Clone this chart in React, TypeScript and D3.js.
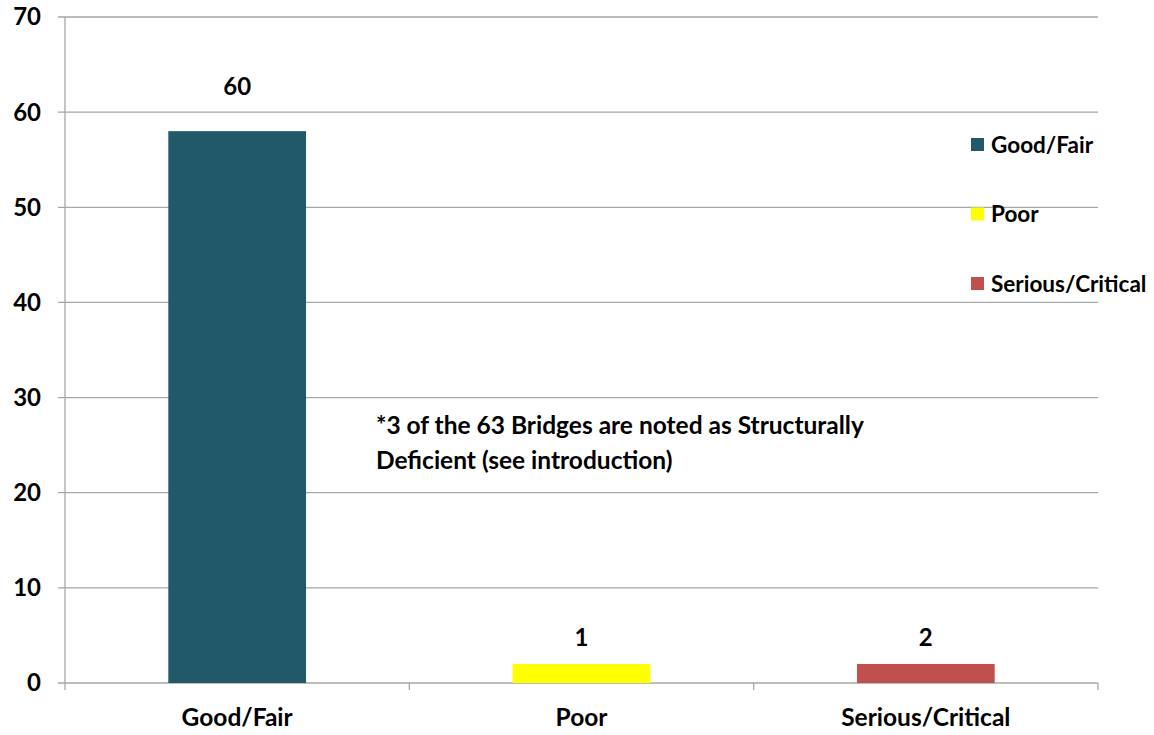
import React from "react";
import * as d3 from "d3";

const categories = ["Good/Fair", "Poor", "Serious/Critical"];
const values = [58, 2, 2];
const valueLabels = ["60", "1", "2"];
const colors = ["#215968", "#FFFF00", "#C0504D"];
const yTicks = [0, 10, 20, 30, 40, 50, 60, 70];
const noteLines = ["*3 of the 63 Bridges are noted as Structurally", "Deficient (see introduction)"];

const W = 1154;
const H = 735;
const left = 65;
const right = 1098;
const top = 17;
const bottom = 683;
const FONT = "Lato, 'Open Sans', sans-serif";

export default function App() {
  const x = d3.scaleBand<string>().domain(categories).range([left, right]).paddingInner(0.6).paddingOuter(0.3);
  const y = d3.scaleLinear().domain([0, 70]).range([bottom, top]);
  const step = x.step();
  const catBounds = d3.range(categories.length + 1).map((i) => left + i * step);

  return (
    <svg width={W} height={H} style={{ position: "absolute", left: 0, top: 0, background: "#fff" }}>
      {yTicks.map((t) => (
        <g key={t}>
          <line x1={left - 7} x2={right} y1={y(t)} y2={y(t)} stroke="#a6a6a6" strokeWidth={1.3} />
          <text x={41} y={y(t)} dy="0.35em" textAnchor="end" fontFamily={FONT} fontWeight="bold" fontSize={24} fill="#000">
            {t}
          </text>
        </g>
      ))}
      <line x1={left} x2={left} y1={top} y2={bottom} stroke="#a6a6a6" strokeWidth={1.3} />
      {catBounds.map((b, i) => (
        <line key={i} x1={b} x2={b} y1={bottom} y2={bottom + 7} stroke="#a6a6a6" strokeWidth={1.3} />
      ))}
      {categories.map((c, i) => (
        <g key={c}>
          <rect x={x(c)!} width={x.bandwidth()} y={y(values[i])} height={y(0) - y(values[i])} fill={colors[i]} />
          <text
            x={x(c)! + x.bandwidth() / 2}
            y={y(Math.max(values[i], +valueLabels[i])) - 26}
            dy="0.35em"
            textAnchor="middle"
            fontFamily={FONT}
            fontWeight="bold"
            fontSize={24}
          >
            {valueLabels[i]}
          </text>
          <text x={x(c)! + x.bandwidth() / 2} y={717} dy="0.35em" textAnchor="middle" fontFamily={FONT} fontWeight="bold" fontSize={24.5}>
            {c}
          </text>
        </g>
      ))}
      {categories.map((c, i) => (
        <g key={"lg" + c} transform={`translate(971, ${145 + i * 69.5})`}>
          <rect x={0} y={-7} width={13} height={13} fill={colors[i]} />
          <text x={20} y={0} dy="0.35em" fontFamily={FONT} fontWeight="bold" fontSize={22.5}>
            {c}
          </text>
        </g>
      ))}
      {noteLines.map((l, i) => (
        <text key={i} x={376} y={425 + i * 35} dy="0.35em" fontFamily={FONT} fontWeight="bold" fontSize={24.5}>
          {l}
        </text>
      ))}
    </svg>
  );
}
